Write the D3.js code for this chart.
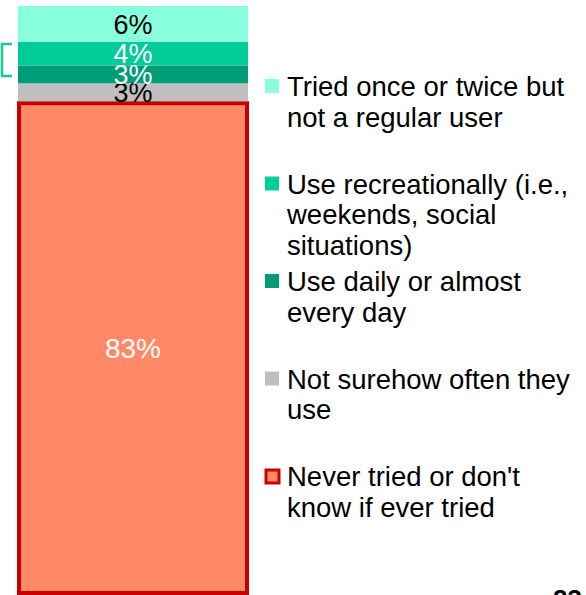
<!DOCTYPE html>
<html><head><meta charset="utf-8">
<script src="https://cdn.jsdelivr.net/npm/d3@7/dist/d3.min.js"></script>
<style>html,body{margin:0;padding:0;background:#fff;overflow:hidden}svg{display:block}</style>
</head><body><svg id="c" width="586" height="595"></svg>
<script>
const categories = ["All"];
const seriesNames = ["Never tried or don't know if ever tried","Not surehow often they use","Use daily or almost every day","Use recreationally (i.e., weekends, social situations)","Tried once or twice but not a regular user"];
const seriesValues = [83, 3, 3, 4, 6];
const seriesLabels = ["83%","3%","3%","4%","6%"];
const seriesColors = ["#FF8866","#BFBFBF","#009B77","#00CC99","#88FFDD"];
const labelColors = ["#ffffff","#000000","#ffffff","#ffffff","#000000"];
const legendLines = [
  ["Tried once or twice but","not a regular user"],
  ["Use recreationally (i.e.,","weekends, social","situations)"],
  ["Use daily or almost","every day"],
  ["Not surehow often they","use"],
  ["Never tried or don't","know if ever tried"]
];
const legendOrder = [4,3,2,1,0];

const svg = d3.select("#c");
const font = "'Liberation Sans', Arial, sans-serif";
const total = d3.sum(seriesValues);
const x = d3.scaleBand().domain(categories).range([18, 248]).padding(0);
const y = d3.scaleLinear().domain([0, total]).range([595, 6]);

let cum = 0;
const segs = seriesValues.map((v,i)=>{const s={i,v,y0:cum,y1:cum+v}; cum+=v; return s;});

svg.selectAll("rect.seg").data(segs).enter().append("rect")
  .attr("class","seg")
  .attr("x", d=> d.i===0 ? x("All")+1 : x("All"))
  .attr("width", d=> d.i===0 ? x.bandwidth()-2 : x.bandwidth())
  .attr("y", d=> d.i===0 ? y(d.y1)+2 : y(d.y1))
  .attr("height", d=> d.i===0 ? y(d.y0)-y(d.y1)-4 : y(d.y0)-y(d.y1))
  .attr("fill", d=>seriesColors[d.i])
  .attr("stroke", d=> d.i===0 ? "#C80000" : "none")
  .attr("stroke-width", 4);

svg.selectAll("text.lab").data(segs).enter().append("text")
  .attr("class","lab")
  .attr("x", x("All")+x.bandwidth()/2)
  .attr("y", d=> (y(d.y0)+y(d.y1))/2)
  .attr("dy","0.36em")
  .attr("text-anchor","middle")
  .attr("font-family", font)
  .attr("font-size", d=> d.i===0 ? 28 : 27)
  .attr("fill", d=>labelColors[d.i])
  .text(d=>seriesLabels[d.i]);

// bracket decoration at left
svg.append("path").attr("d","M12,44 H2 V76 H12").attr("fill","none")
  .attr("stroke","#1DC89A").attr("stroke-width",2.5);

// legend
const lg = svg.append("g");
legendOrder.forEach((si,k)=>{
  const by = 96 + k*97.5;
  const g = lg.append("g");
  if (si===0) {
    g.append("rect").attr("x",266).attr("y",by-16).attr("width",13).attr("height",13)
      .attr("fill",seriesColors[si]).attr("stroke","#C80000").attr("stroke-width",3);
  } else {
    g.append("rect").attr("x",265).attr("y",by-17).attr("width",14).attr("height",14)
      .attr("fill",seriesColors[si]);
  }
  legendLines[k].forEach((ln,j)=>{
    g.append("text").attr("x",287).attr("y",by+j*30.5)
      .attr("font-family",font).attr("font-size",27.5).attr("fill","#000").text(ln);
  });
});

svg.append("text").attr("x",553).attr("y",608).attr("font-family",font)
  .attr("font-size",26).attr("font-weight","bold").attr("fill","#000").text("23");
</script></body></html>
